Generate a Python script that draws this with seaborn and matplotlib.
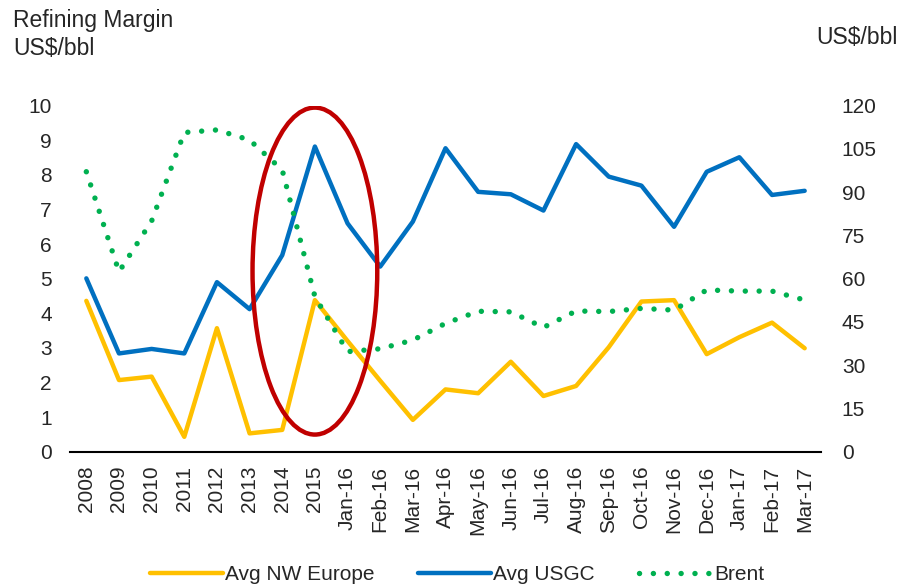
import numpy as np
import pandas as pd
import matplotlib
matplotlib.use("Agg")
import matplotlib.pyplot as plt
from matplotlib.patches import Ellipse
import seaborn as sns

categories = ["2008", "2009", "2010", "2011", "2012", "2013", "2014", "2015",
              "Jan-16", "Feb-16", "Mar-16", "Apr-16", "May-16", "Jun-16", "Jul-16",
              "Aug-16", "Sep-16", "Oct-16", "Nov-16", "Dec-16", "Jan-17", "Feb-17", "Mar-17"]
nw_europe = [4.36, 2.07, 2.17, 0.43, 3.57, 0.53, 0.63, 4.38,
             3.2, 2.05, 0.92, 1.80, 1.69, 2.60, 1.61,
             1.90, 3.02, 4.34, 4.38, 2.82, 3.31, 3.73, 2.99]
usgc = [5.01, 2.84, 2.97, 2.84, 4.90, 4.12, 5.68, 8.82,
        6.60, 5.35, 6.65, 8.77, 7.51, 7.44, 6.97,
        8.89, 7.95, 7.69, 6.50, 8.09, 8.51, 7.42, 7.54]
brent = [97.1, 62.4, 80.0, 110.7, 111.6, 108.1, 97.7, 53.8,
         34.7, 35.7, 38.7, 44.5, 48.7, 48.5, 43.1,
         48.8, 48.6, 49.7, 49.1, 56.1, 55.7, 55.7, 52.6]
left_ticks = list(range(0, 11))
right_ticks = list(range(0, 121, 15))

df = pd.DataFrame({"pos": np.arange(len(categories)), "period": categories,
                   "NW": nw_europe, "USGC": usgc, "Brent": brent})

sns.set_theme(style="white")
plt.rcParams["font.family"] = ["Liberation Sans", "DejaVu Sans"]

fig = plt.figure(figsize=(9.06, 5.85), dpi=100)
ax = fig.add_axes([70 / 906, 133.3 / 585, 751 / 906, 346 / 585])
ax2 = ax.twinx()

sns.lineplot(data=df, x="pos", y="NW", ax=ax, color="#FFC000", lw=3.2,
             label="Avg NW Europe", legend=False)
sns.lineplot(data=df, x="pos", y="USGC", ax=ax, color="#0070C0", lw=3.2,
             label="Avg USGC", legend=False)
sns.lineplot(data=df, x="pos", y="Brent", ax=ax2, color="#00B050", lw=3.9,
             label="Brent", legend=False, dashes=False)
bl = ax2.get_lines()[0]
bl.set_linestyle((0, (0.01, 2.55)))
bl.set_dash_capstyle("round")

tick_fs = 15
ax.set_xlim(-0.5, len(categories) - 0.5)
ax.set_ylim(0, 10)
ax2.set_ylim(0, 120)
ax.set_xticks(df["pos"])
ax.set_xticklabels(categories, rotation=90, fontsize=tick_fs)
ax.set_yticks(left_ticks)
ax.set_yticklabels([str(v) for v in left_ticks], fontsize=tick_fs)
ax2.set_yticks(right_ticks)
ax2.set_yticklabels([str(v) for v in right_ticks], fontsize=tick_fs)
ax.tick_params(axis="both", length=0)
ax.tick_params(axis="y", pad=13)
ax.tick_params(axis="x", pad=10)
ax2.tick_params(axis="y", length=0, pad=15)
ax.set_xlabel("")
ax.set_ylabel("")
ax2.set_ylabel("")
for s in ["top", "left", "right"]:
    ax.spines[s].set_visible(False)
for s in ["top", "left", "right", "bottom"]:
    ax2.spines[s].set_visible(False)
ax.spines["bottom"].set_color("black")
ax.spines["bottom"].set_linewidth(1.5)

idx2015 = categories.index("2015")
ell = Ellipse((idx2015, 5.22), width=3.82, height=9.45, fill=False,
              edgecolor="#C00000", lw=3.2, zorder=5)
ax.add_patch(ell)

fig.text(13 / 906, 1 - 9 / 585, "Refining Margin\nUS$/bbl", ha="left", va="top",
         fontsize=16.5, linespacing=1.3)
fig.text(898 / 906, 1 - 37 / 585, "US$/bbl", ha="right", va="center", fontsize=16.5)

h1, l1 = ax.get_legend_handles_labels()
h2, l2 = ax2.get_legend_handles_labels()
leg = fig.legend(h1 + h2, l1 + l2, loc="center", bbox_to_anchor=(457 / 906, 1 - 575 / 585),
                 ncol=3, frameon=False, fontsize=15, handlelength=3.5,
                 handletextpad=0.1, columnspacing=2.1)

fig.savefig("out.png", dpi=100)
